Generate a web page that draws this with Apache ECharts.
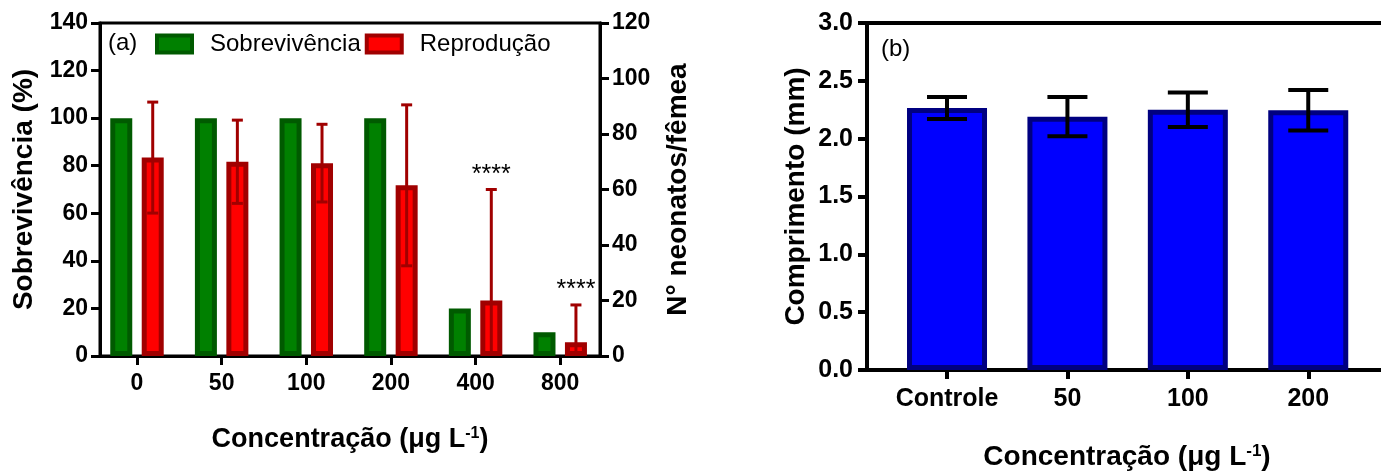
<!DOCTYPE html>
<html>
<head>
<meta charset="utf-8">
<script src="https://cdn.jsdelivr.net/npm/echarts@6/dist/echarts.min.js"></script>
<style>
    html, body { margin: 0; padding: 0; background: #fff; }
    #chart { width: 1381px; height: 475px; }
</style>
</head>
<body>
<div id="chart"></div>
<script>
    // painel (a)
    var groupsA = ['0', '50', '100', '200', '400', '800'];
    var survival = [100, 100, 100, 100, 20, 10];
    var reprod = [71.5, 70, 69.5, 61.5, 20, 5];
    var reprodSd = [20, 15, 14, 29, 40, 13.4];
    var reprodSig = ['', '', '', '', '****', '****'];

    // painel (b)
    var groupsB = ['Controle', '50', '100', '200'];
    var lengthMean = [2.265, 2.19, 2.25, 2.245];
    var lengthSd = [0.095, 0.17, 0.15, 0.175];

    var FONT = 'Liberation Sans, Arial, sans-serif';
    var BAR_A = 22, GAP_A = 0.43;
    var OFFSET_A = BAR_A * (1 + GAP_A) / 2;

    function idx(arr) {
        return arr.map(function (v, i) { return i; });
    }

    var chart = echarts.init(document.getElementById('chart'));

    var tickLabel = { color: '#000', fontFamily: FONT, fontWeight: 'bold' };
    function axisStyle(w) {
        return {
            axisLine: { show: true, onZero: false, lineStyle: { color: '#000', width: w } },
            axisTick: { show: true, length: 9, lineStyle: { color: '#000', width: w } },
            splitLine: { show: false }
        };
    }

    function errorBars(color, lineW, capW, dx, sig) {
        return function (params, api) {
            var x = api.value(0), m = api.value(1), s = api.value(2);
            var top = api.coord([x, m + s]);
            var bot = api.coord([x, m - s]);
            var cx = top[0] + dx;
            var st = { stroke: color, lineWidth: lineW };
            var children = [
                { type: 'line', shape: { x1: cx, y1: top[1], x2: cx, y2: bot[1] }, style: st },
                { type: 'line', shape: { x1: cx - capW / 2, y1: top[1], x2: cx + capW / 2, y2: top[1] }, style: st },
                { type: 'line', shape: { x1: cx - capW / 2, y1: bot[1], x2: cx + capW / 2, y2: bot[1] }, style: st }
            ];
            if (sig && sig[params.dataIndex]) {
                children.push({
                    type: 'text',
                    style: {
                        text: sig[params.dataIndex], x: cx, y: top[1] - 2,
                        align: 'center', verticalAlign: 'bottom',
                        font: '25px ' + FONT, fill: '#000'
                    }
                });
            }
            return { type: 'group', children: children };
        };
    }

    var axisNameA = {
        color: '#000', fontFamily: FONT, fontWeight: 'bold', fontSize: 28
    };

    var option = {
        animation: false,
        title: [
            { text: '(a)', left: 108, top: 31, padding: 0,
              textStyle: { fontFamily: FONT, fontWeight: 'normal', fontSize: 24, color: '#000' } },
            { text: '(b)', left: 881, top: 37, padding: 0,
              textStyle: { fontFamily: FONT, fontWeight: 'normal', fontSize: 24, color: '#000' } }
        ],
        legend: {
            left: 155, top: 32, padding: 0,
            itemWidth: 35, itemHeight: 17, itemGap: 4,
            icon: 'rect',
            textStyle: { fontFamily: FONT, fontSize: 24, color: '#000', padding: [0, 0, 0, 13] },
            data: [
                { name: 'Sobrevivência', itemStyle: { color: '#008000', borderColor: '#005a00', borderWidth: 4 } },
                { name: 'Reprodução', itemStyle: { color: '#ff0000', borderColor: '#a00000', borderWidth: 4 } }
            ]
        },
        grid: [
            { left: 100, top: 23, width: 500, height: 333, show: true, borderColor: '#000', borderWidth: 3,
              outerBoundsMode: 'none', containLabel: false },
            { left: 867, top: 23, width: 520, height: 347, show: true, borderColor: '#000', borderWidth: 4,
              outerBoundsMode: 'none', containLabel: false }
        ],
        xAxis: [
            Object.assign(axisStyle(3), {
                type: 'value', gridIndex: 0, min: -0.437, max: 5.47,
                axisTick: { show: true, length: 9, lineStyle: { color: '#000', width: 3 }, customValues: idx(groupsA) },
                axisLabel: Object.assign({}, tickLabel, {
                    fontSize: 23, margin: 16, customValues: idx(groupsA),
                    formatter: function (v) { return groupsA[Math.round(v)]; }
                }),
                name: '{t|Concentração (μg L}{s|-1}{t|)}',
                nameLocation: 'middle', nameGap: 70,
                nameTextStyle: {
                    rich: {
                        t: { fontFamily: FONT, fontWeight: 'bold', fontSize: 27, color: '#000' },
                        s: { fontFamily: FONT, fontWeight: 'bold', fontSize: 16, color: '#000', verticalAlign: 'top', padding: [0, 0, 12, 0] }
                    }
                }
            }),
            Object.assign(axisStyle(4), {
                type: 'value', gridIndex: 1, min: -0.6645, max: 3.654,
                axisTick: { show: true, length: 9, lineStyle: { color: '#000', width: 4 }, customValues: idx(groupsB) },
                axisLabel: Object.assign({}, tickLabel, {
                    fontSize: 25, margin: 17, customValues: idx(groupsB),
                    formatter: function (v) { return groupsB[Math.round(v)]; }
                }),
                name: '{t|Concentração (μg L}{s|-1}{t|)}',
                nameLocation: 'middle', nameGap: 73,
                nameTextStyle: {
                    rich: {
                        t: { fontFamily: FONT, fontWeight: 'bold', fontSize: 28, color: '#000' },
                        s: { fontFamily: FONT, fontWeight: 'bold', fontSize: 17, color: '#000', verticalAlign: 'top', padding: [0, 0, 12, 0] }
                    }
                }
            })
        ],
        yAxis: [
            Object.assign(axisStyle(3), {
                type: 'value', gridIndex: 0, min: 0, max: 140, interval: 20, position: 'left',
                axisLabel: Object.assign({}, tickLabel, { fontSize: 23, margin: 12 }),
                name: 'Sobrevivência (%)', nameLocation: 'middle', nameRotate: 90, nameGap: 62,
                nameTextStyle: axisNameA
            }),
            Object.assign(axisStyle(3), {
                type: 'value', gridIndex: 0, min: 0, max: 120, interval: 20, position: 'right',
                axisLabel: Object.assign({}, tickLabel, { fontSize: 23, margin: 12 }),
                name: 'N° neonatos/fêmea', nameLocation: 'middle', nameRotate: 90, nameGap: 64,
                nameTextStyle: axisNameA
            }),
            Object.assign(axisStyle(4), {
                type: 'value', gridIndex: 1, min: 0, max: 3, interval: 0.5, position: 'left',
                axisLabel: Object.assign({}, tickLabel, {
                    fontSize: 25, margin: 14,
                    formatter: function (v) { return v.toFixed(1); }
                }),
                name: 'Comprimento (mm)', nameLocation: 'middle', nameRotate: 90, nameGap: 57,
                nameTextStyle: axisNameA
            })
        ],
        series: [
            {
                name: 'Sobrevivência', type: 'bar', xAxisIndex: 0, yAxisIndex: 0,
                barWidth: BAR_A, barGap: (GAP_A * 100) + '%',
                itemStyle: { color: '#008000', borderColor: '#005a00', borderWidth: 5 },
                data: survival.map(function (v, i) { return [i, v]; })
            },
            {
                name: 'Reprodução', type: 'bar', xAxisIndex: 0, yAxisIndex: 1,
                barWidth: BAR_A, barGap: (GAP_A * 100) + '%',
                itemStyle: { color: '#ff0000', borderColor: '#a00000', borderWidth: 5 },
                data: reprod.map(function (v, i) { return [i, v]; })
            },
            {
                type: 'custom', xAxisIndex: 0, yAxisIndex: 1, clip: true, z: 5,
                renderItem: errorBars('#a00000', 3, 11, OFFSET_A, reprodSig),
                data: reprod.map(function (v, i) { return [i, v, reprodSd[i]]; })
            },
            {
                type: 'bar', xAxisIndex: 1, yAxisIndex: 2, barWidth: 80,
                itemStyle: { color: '#0000ff', borderColor: '#000080', borderWidth: 5 },
                data: lengthMean.map(function (v, i) { return [i, v]; })
            },
            {
                type: 'custom', xAxisIndex: 1, yAxisIndex: 2, clip: true, z: 5,
                renderItem: errorBars('#000', 4, 40, 0, null),
                data: lengthMean.map(function (v, i) { return [i, v, lengthSd[i]]; })
            }
        ]
    };

    chart.setOption(option);
</script>
</body>
</html>
